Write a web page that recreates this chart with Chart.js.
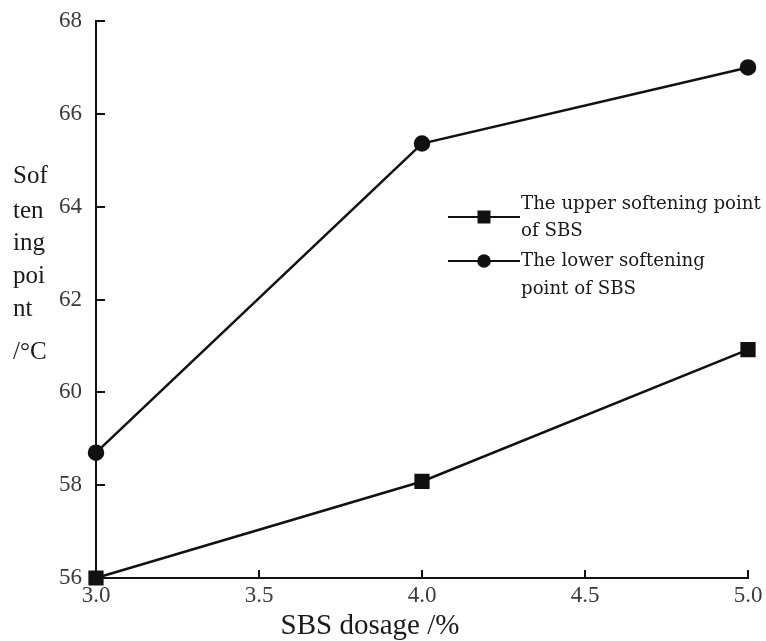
<!DOCTYPE html>
<html>
<head>
<meta charset="utf-8">
<script src="https://cdn.jsdelivr.net/npm/chart.js@4/dist/chart.umd.min.js"></script>
<style>
  html, body { margin: 0; padding: 0; background: #fff; }
  #wrap { width: 766px; height: 641px; position: relative; }
</style>
</head>
<body>
<div id="wrap"><canvas id="c"></canvas></div>
<script>
// SBS dosage (%) on x, softening point (°C) on y
var dosage = [3.0, 4.0, 5.0];
var upperSoftening = [56.0, 58.08, 60.92];
var lowerSoftening = [58.7, 65.36, 67.0];
var seriesNames = [['The upper softening point', 'of SBS'], ['The lower softening', 'point of SBS']];
var xTicks = [3.0, 3.5, 4.0, 4.5, 5.0];
var yTicks = [56, 58, 60, 62, 64, 66, 68];
var xTitle = 'SBS dosage /%';
var yTitleLines = ['Sof', 'ten', 'ing', 'poi', 'nt', '/\u00b0C'];

function pts(ys) {
  return dosage.map(function(x, i) { return { x: x, y: ys[i] }; });
}

var SERIF = '"Liberation Serif", "DejaVu Serif", serif';
var LEGEND_FONT = '"DejaVu Serif", serif';
var INK = '#111';

// inward ticks, axis titles and the floating legend
var extras = {
  id: 'extras',
  afterDraw: function(chart) {
    var ctx = chart.ctx;
    var xs = chart.scales.x, ys = chart.scales.y;
    var area = chart.chartArea;
    ctx.save();
    ctx.strokeStyle = INK;
    ctx.lineWidth = 2;
    xTicks.forEach(function(v) {
      var px = Math.round(xs.getPixelForValue(v));
      ctx.beginPath(); ctx.moveTo(px, area.bottom); ctx.lineTo(px, area.bottom - 8); ctx.stroke();
    });
    yTicks.forEach(function(v) {
      var py = Math.round(ys.getPixelForValue(v));
      ctx.beginPath(); ctx.moveTo(area.left, py); ctx.lineTo(area.left + 9, py); ctx.stroke();
    });

    // y title, stacked syllables
    ctx.fillStyle = '#1a1a1a';
    ctx.font = '25px ' + SERIF;
    ctx.textAlign = 'left';
    ctx.textBaseline = 'middle';
    var yPos = [176, 211, 243, 276, 309, 352];
    yTitleLines.forEach(function(t, i) { ctx.fillText(t, 13, yPos[i]); });

    // x title sits left of centre in the original
    ctx.font = '29px ' + SERIF;
    ctx.textAlign = 'center';
    ctx.fillText(xTitle, 370, 626);

    // legend
    ctx.textAlign = 'left';
    var lx0 = 448, lx1 = 520;
    var rows = [[204, 231, 217], [261, 289, 261]];
    ctx.font = '18.2px ' + LEGEND_FONT;
    chart.data.datasets.forEach(function(ds, i) {
      var ly = rows[i][2];
      ctx.strokeStyle = INK; ctx.lineWidth = 2.2;
      ctx.beginPath(); ctx.moveTo(lx0, ly); ctx.lineTo(lx1, ly); ctx.stroke();
      ctx.fillStyle = INK;
      var mx = (lx0 + lx1) / 2;
      if (ds.pointStyle === 'rect') {
        ctx.fillRect(mx - 6.5, ly - 6.5, 13, 13);
      } else {
        ctx.beginPath(); ctx.arc(mx, ly, 6.8, 0, Math.PI * 2); ctx.fill();
      }
      ctx.fillStyle = '#1a1a1a';
      ctx.fillText(seriesNames[i][0], lx1 + 1, rows[i][0]);
      ctx.fillText(seriesNames[i][1], lx1 + 1, rows[i][1]);
    });
    ctx.restore();
  }
};

new Chart(document.getElementById('c'), {
  type: 'line',
  data: {
    datasets: [
      {
        label: 'The upper softening point of SBS',
        data: pts(upperSoftening),
        borderColor: INK,
        backgroundColor: INK,
        borderWidth: 2.5,
        pointStyle: 'rect',
        pointRadius: 9,
        tension: 0,
        clip: false
      },
      {
        label: 'The lower softening point of SBS',
        data: pts(lowerSoftening),
        borderColor: INK,
        backgroundColor: INK,
        borderWidth: 2.5,
        pointStyle: 'circle',
        pointRadius: 7,
        tension: 0,
        clip: false
      }
    ]
  },
  options: {
    responsive: true,
    maintainAspectRatio: false,
    animation: false,
    layout: { padding: { left: 0, right: 18, top: 21, bottom: 0 } },
    plugins: { legend: { display: false }, tooltip: { enabled: false } },
    scales: {
      x: {
        type: 'linear',
        min: 3.0,
        max: 5.0,
        afterBuildTicks: function(s) { s.ticks = xTicks.map(function(v) { return { value: v }; }); },
        afterFit: function(s) { s.height = 63; s.paddingLeft = 0; s.paddingRight = 0; },
        ticks: {
          color: '#3a3a3a',
          padding: 4,
          font: { family: SERIF, size: 23 },
          maxRotation: 0,
          callback: function(v) { return Number(v).toFixed(1); }
        },
        grid: { display: true, drawOnChartArea: false, drawTicks: false },
        border: { display: true, color: INK, width: 2 },
        title: { display: false }
      },
      y: {
        type: 'linear',
        min: 56,
        max: 68,
        afterBuildTicks: function(s) { s.ticks = yTicks.map(function(v) { return { value: v }; }); },
        afterFit: function(s) { s.width = 96; s.paddingTop = 0; s.paddingBottom = 0; },
        ticks: {
          color: '#3a3a3a',
          padding: 14,
          font: { family: SERIF, size: 23 }
        },
        grid: { display: true, drawOnChartArea: false, drawTicks: false },
        border: { display: true, color: INK, width: 2 }
      }
    }
  },
  plugins: [extras]
});
</script>
</body>
</html>
